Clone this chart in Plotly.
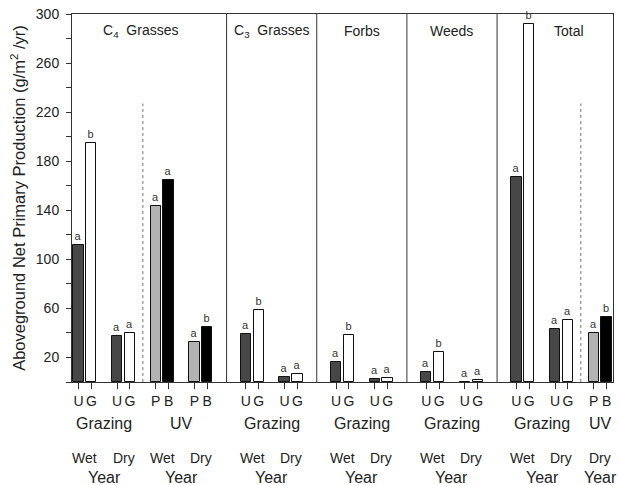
import plotly.graph_objects as go

# ---------------- data ----------------
panels = ["C<sub>4</sub>&nbsp;&nbsp;Grasses", "C<sub>3</sub>&nbsp;&nbsp;Grasses", "Forbs", "Weeds", "Total"]
group_panel = [0, 0, 0, 0, 1, 1, 2, 2, 3, 3, 4, 4, 4]
group_factor = ["Grazing", "Grazing", "UV", "UV", "Grazing", "Grazing", "Grazing", "Grazing",
                "Grazing", "Grazing", "Grazing", "Grazing", "UV"]
group_year = ["Wet", "Dry", "Wet", "Dry", "Wet", "Dry", "Wet", "Dry", "Wet", "Dry", "Wet", "Dry", "Dry"]
first_vals = [112, 37.5, 143.5, 32.5, 39, 4, 16, 2.5, 8, 0.3, 167, 43, 40]
second_vals = [195, 40, 164.5, 45, 58.5, 6.5, 38.5, 3.5, 24.5, 1.5, 292, 50.5, 53]
first_letters = ["a", "a", "a", "a", "a", "a", "a", "a", "a", "a", "a", "a", "a"]
second_letters = ["b", "a", "a", "b", "b", "a", "b", "a", "b", "a", "b", "a", "b"]
factor_levels = {"Grazing": ("U", "G"), "UV": ("P", "B")}
y_tick_vals = [20, 60, 100, 140, 180, 220, 260, 300]
y_tick_labels = ["20", "60", "100", "140", "180", "220", "260", "300"]

# ---------------- styles / layout ----------------
level_colors = {"U": "#474747", "G": "#ffffff", "P": "#b3b3b3", "B": "#000000"}
title_x = [4.8, 15.0, 22.0, 29.0, 38.1]
dotted_top = 227
FONT = "Arial, Liberation Sans, sans-serif"
TXT = "#222222"

def slot(g):
    return 3 * g + group_panel[g]

bars = {k: {"x": [], "y": [], "t": []} for k in level_colors}
tickvals, ticktext = [], []
for g in range(len(group_panel)):
    l1, l2 = factor_levels[group_factor[g]]
    s = slot(g)
    for lev, xv, yv, tv in ((l1, s, first_vals[g], first_letters[g]),
                            (l2, s + 1, second_vals[g], second_letters[g])):
        bars[lev]["x"].append(xv)
        bars[lev]["y"].append(yv)
        bars[lev]["t"].append(tv)
        tickvals.append(xv)
        ticktext.append(lev)

fig = go.Figure()
for lev, d in bars.items():
    fig.add_trace(go.Bar(
        x=d["x"], y=d["y"], text=d["t"], textposition="outside",
        textfont=dict(size=11, color="#333333", family=FONT),
        constraintext="none", cliponaxis=False,
        width=0.8, marker=dict(color=level_colors[lev], line=dict(color="#111111", width=1)),
        showlegend=False, hoverinfo="skip"))

shapes = []
annotations = []
ng = len(group_panel)
# panel dividers and dotted factor separators
for g in range(ng - 1):
    if group_panel[g] != group_panel[g + 1]:
        xm = (slot(g) + 1 + slot(g + 1)) / 2
        shapes.append(dict(type="line", xref="x", yref="paper", x0=xm, x1=xm, y0=0, y1=1,
                           line=dict(color="#333333", width=1)))
    elif group_factor[g] != group_factor[g + 1]:
        xm = (slot(g) + 1 + slot(g + 1)) / 2
        shapes.append(dict(type="line", xref="x", yref="y", x0=xm, x1=xm, y0=0, y1=dotted_top,
                           line=dict(color="#777777", width=1, dash="dot")))

# panel titles
for p, name in enumerate(panels):
    annotations.append(dict(x=title_x[p], y=1, xref="x", yref="paper", text=name, showarrow=False,
                            yanchor="middle", yshift=-17, font=dict(size=14, family=FONT, color=TXT)))

# year labels under each group
for g in range(ng):
    annotations.append(dict(x=slot(g) + 0.5, y=0, xref="x", yref="paper", text=group_year[g],
                            showarrow=False, yanchor="middle", yshift=-76,
                            font=dict(size=14, family=FONT, color=TXT)))

# factor and "Year" labels under runs of groups
runs = []
g = 0
while g < ng:
    h = g
    while h + 1 < ng and group_panel[h + 1] == group_panel[g] and group_factor[h + 1] == group_factor[g]:
        h += 1
    runs.append((g, h))
    g = h + 1
for a, b in runs:
    xc = (slot(a) + slot(b) + 1) / 2
    annotations.append(dict(x=xc, y=0, xref="x", yref="paper", text=group_factor[a], showarrow=False,
                            yanchor="middle", yshift=-41, font=dict(size=16, family=FONT, color=TXT)))
    annotations.append(dict(x=xc, y=0, xref="x", yref="paper", text="Year", showarrow=False,
                            yanchor="middle", yshift=-95, font=dict(size=16, family=FONT, color=TXT)))

fig.update_layout(
    width=619, height=485,
    margin=dict(l=72, r=6, t=14, b=103),
    paper_bgcolor="white", plot_bgcolor="white",
    bargap=0, barmode="overlay",
    font=dict(family=FONT, color=TXT, size=14),
    shapes=shapes, annotations=annotations,
    xaxis=dict(range=[-0.5, 41.5], tickmode="array", tickvals=tickvals, ticktext=ticktext,
               ticks="outside", ticklen=6, tickcolor="#333333", showline=True, linecolor="#333333",
               linewidth=1, mirror=True, showgrid=False, zeroline=False,
               tickfont=dict(size=14, family=FONT, color=TXT)),
    yaxis=dict(range=[0, 300], tickmode="array", tickvals=y_tick_vals, ticktext=y_tick_labels,
               ticks="outside", ticklen=5, tickcolor="#333333", showline=True, linecolor="#333333",
               linewidth=1, mirror=True, showgrid=False, zeroline=False, ticklabelstandoff=4,
               minor=dict(tick0=0, dtick=20, ticks="outside", ticklen=5, tickcolor="#333333",
                          showgrid=False),
               tickfont=dict(size=14, family=FONT, color=TXT),
               title=dict(text="Aboveground Net Primary Production (g/m<sup>2</sup> /yr)",
                          font=dict(size=16.5, family=FONT, color=TXT), standoff=6)),
)

fig.write_html("out.html", config={"displayModeBar": False},
               post_script="document.body.style.margin='0';document.body.style.overflow='hidden';")
